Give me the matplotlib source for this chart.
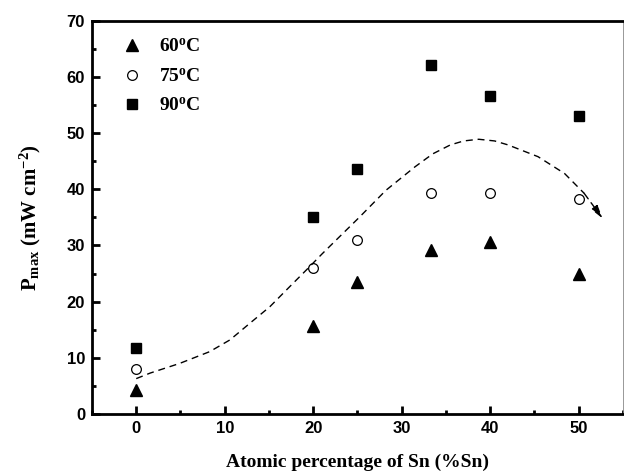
import matplotlib
matplotlib.use("Agg")
import matplotlib.pyplot as plt
from matplotlib.ticker import MultipleLocator

serif = "Liberation Serif"
sans = "Liberation Sans"
plt.rcParams["mathtext.fontset"] = "custom"
plt.rcParams["mathtext.rm"] = serif + ":bold"
plt.rcParams["mathtext.it"] = serif + ":bold"
plt.rcParams["mathtext.bf"] = serif + ":bold"

# Sn content (atomic %)
sn = [0, 20, 25, 33.3, 40, 50]
p60 = [4.3, 15.6, 23.5, 29.2, 30.7, 25.0]
p75 = [8.0, 25.9, 31.0, 39.3, 39.4, 38.3]
p90 = [11.8, 35.0, 43.6, 62.2, 56.6, 53.0]

# hand drawn trend line
trend_x = [0, 1.6, 4.9, 8.3, 10.6, 12.8, 15.1, 17.3, 19.2, 21.0, 23.0, 25.2,
           28.2, 31.5, 33.5, 35.5, 37.0, 38.7, 40.5, 42.0, 45.4, 48.4, 50.6]
trend_y = [6.3, 7.3, 9.0, 11.1, 13.2, 16.1, 19.1, 22.6, 25.6, 28.5, 31.6, 35.0,
           39.8, 44.0, 46.3, 47.9, 48.6, 48.9, 48.6, 47.9, 45.8, 42.8, 39.3]
arrow_tip = (52.7, 34.8)

fig = plt.figure(figsize=(6.24, 4.75), dpi=100)
ax = fig.add_axes([0.1474, 0.1284, 0.851, 0.828])

ax.plot(sn, p60, linestyle="none", marker="^", color="black", markersize=8.5,
        label=r"60$^{\mathrm{o}}$C")
ax.plot(sn, p75, linestyle="none", marker="o", markerfacecolor="white",
        markeredgecolor="black", markeredgewidth=0.9, markersize=7,
        label=r"75$^{\mathrm{o}}$C")
ax.plot(sn, p90, linestyle="none", marker="s", color="black", markersize=6.5,
        label=r"90$^{\mathrm{o}}$C")

ax.plot(trend_x, trend_y, color="black", linestyle=(0, (5, 3.5)), linewidth=1.0)
ax.annotate("", xy=arrow_tip, xytext=(trend_x[-1], trend_y[-1]),
            arrowprops=dict(arrowstyle="-|>,head_length=0.8,head_width=0.22",
                            color="black", linestyle=(0, (5, 3.5)), lw=1.0,
                            shrinkA=0, shrinkB=0))

ax.set_xlim(-5, 55)
ax.set_ylim(0, 70)
ax.xaxis.set_major_locator(MultipleLocator(10))
ax.xaxis.set_minor_locator(MultipleLocator(5))
ax.yaxis.set_major_locator(MultipleLocator(10))
ax.yaxis.set_minor_locator(MultipleLocator(5))

ax.tick_params(which="major", direction="in", length=6, width=2, top=False, right=False, pad=5)
ax.tick_params(which="minor", direction="in", length=3, width=2, top=False, right=False)
for lab in ax.get_xticklabels() + ax.get_yticklabels():
    lab.set_fontfamily(sans)
    lab.set_fontweight("bold")
    lab.set_fontsize(12)

for side in ["left", "bottom", "top"]:
    ax.spines[side].set_linewidth(2)
ax.spines["right"].set_linewidth(0.6)
ax.spines["right"].set_color("#888888")

ax.set_xlabel("Atomic percentage of Sn (%Sn)", fontfamily=serif,
              fontweight="bold", fontsize=14, labelpad=13)
ax.set_ylabel(r"P$_{\mathrm{max}}$ (mW cm$^{\mathrm{-2}}$)", fontfamily=serif,
              fontweight="bold", fontsize=15, labelpad=17)

leg = ax.legend(loc="upper left", frameon=False, handletextpad=0.8,
                labelspacing=0.62, borderaxespad=0.5, handlelength=1.2,
                borderpad=0.4, bbox_to_anchor=(0.02, 1.0),
                prop=dict(family=serif, weight="bold", size=14))

fig.savefig("out.png", dpi=100)
